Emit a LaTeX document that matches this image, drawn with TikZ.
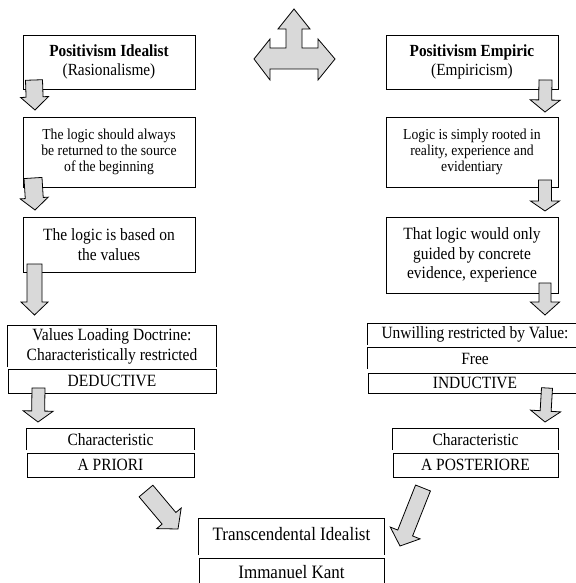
\documentclass[tikz,border=0pt]{standalone}
\usepackage{fontspec}
\setmainfont[FakeStretch=0.9]{Liberation Serif}
\usetikzlibrary{calc}
\tikzset{
  box/.style={draw=black, line width=0.9pt, inner sep=0pt, align=center, rectangle},
  obox/.style={inner sep=0pt, align=center, rectangle},
  barrow/.style={draw=black, fill=black!15, line width=0.8pt, line join=miter},
  fa/.style={font=\fontsize{15.2}{15.8}\selectfont},
  fb/.style={font=\fontsize{17.2}{19.5}\selectfont},
  fh/.style={font=\fontsize{17}{18.5}\selectfont},
  fd/.style={font=\fontsize{18.9}{20}\selectfont},
}
\newcommand\mkbox[7]{\node[#6, minimum width={#4pt-#2pt}, minimum height={#5pt-#3pt}] (#1) at ({(#2+#4)/2},{(#3+#5)/2}) {#7};}
\newcommand\topen[1]{\draw[line width=0.9pt] (#1.south west) |- (#1.north east) -- (#1.south east);}
\newcommand\blockarrow[5]{%
  \coordinate (bah) at ($(#2)!#5!(#1)$);
  \draw[barrow] ($(#1)!#3!90:(#2)$) -- ($(bah)!#3!90:(#2)$) -- ($(bah)!#4!90:(#2)$) -- (#2)
    -- ($(bah)!#4!-90:(#2)$) -- ($(bah)!#3!-90:(#2)$) -- ($(#1)!#3!-90:(#2)$) -- cycle;}
\begin{document}
\begin{tikzpicture}[x=1pt,y=-1pt]
\useasboundingbox[fill=white] (0,0) rectangle (575,583);
% left column
\mkbox{B1}{23}{35}{195}{89}{box,fh}{\textbf{Positivism Idealist}\\(Rasionalisme)}
\mkbox{B2}{23}{117}{195}{187}{box,fa}{The logic should always\\be returned to the source\\of the beginning}
\mkbox{B3}{23}{217}{195}{272}{box,fb}{The logic is based on\\the values}
\mkbox{B4a}{8}{326}{216}{367}{obox,fb}{Values Loading Doctrine:\\Characteristically restricted}
\topen{B4a}
\mkbox{B4b}{8}{369}{216}{393}{box,fb}{DEDUCTIVE}
\mkbox{B5a}{27}{429}{194}{450}{obox,fb}{Characteristic}
\topen{B5a}
\mkbox{B5b}{27}{453}{194}{477}{box,fb}{A PRIORI}
% right column
\mkbox{C1}{386}{35}{558}{89}{box,fh}{\textbf{Positivism Empiric}\\(Empiricism)}
\mkbox{C2}{386}{117}{558}{187}{box,fa}{Logic is simply rooted in\\reality, experience and\\evidentiary}
\mkbox{C3}{386}{217}{558}{293}{box,fb}{That logic would only\\guided by concrete\\evidence, experience}
\mkbox{C4a}{368}{324}{582}{345}{obox,fb}{Unwilling restricted by Value:}
\topen{C4a}
\mkbox{C4b}{368}{348}{582}{369}{obox,fb}{Free}
\topen{C4b}
\mkbox{C4c}{368}{373}{582}{393}{box,fb}{INDUCTIVE}
\mkbox{C5a}{393}{429}{558}{450}{obox,fb}{Characteristic}
\topen{C5a}
\mkbox{C5b}{393}{453}{558}{477}{box,fb}{A POSTERIORE}
% bottom
\mkbox{D1}{199}{519}{384}{549}{obox,fd}{Transcendental Idealist}
\draw[line width=0.9pt] (D1.north west) ++(0,36) -- (D1.north west) -- (D1.north east) -- ++(0,36);
\mkbox{D2}{199}{558}{384}{586}{box,fd}{Immanuel Kant}
% arrow end points
\coordinate (a1s) at (34,80);  \coordinate (a1e) at (35,110);
\coordinate (a2s) at (33,178); \coordinate (a2e) at (35,210);
\coordinate (a3s) at (34.5,264); \coordinate (a3e) at (34.5,315);
\coordinate (a4s) at (38.5,388); \coordinate (a4e) at (38,422);
\coordinate (r1s) at (545.5,80); \coordinate (r1e) at (545,112);
\coordinate (r2s) at (545,180); \coordinate (r2e) at (545,211);
\coordinate (r3s) at (545,283); \coordinate (r3e) at (545,315);
\coordinate (r4s) at (547,388); \coordinate (r4e) at (545,422);
\coordinate (dls) at (146,491); \coordinate (dle) at (178,529);
\coordinate (drs) at (423,488); \coordinate (dre) at (400,546);
\blockarrow{a1s}{a1e}{8.5pt}{14pt}{13pt}
\blockarrow{a2s}{a2e}{9pt}{14pt}{12pt}
\blockarrow{a3s}{a3e}{7.5pt}{13.5pt}{13pt}
\blockarrow{a4s}{a4e}{6.5pt}{15pt}{11pt}
\blockarrow{r1s}{r1e}{6.5pt}{15pt}{12pt}
\blockarrow{r2s}{r2e}{6.5pt}{14.5pt}{10pt}
\blockarrow{r3s}{r3e}{6pt}{14.5pt}{13pt}
\blockarrow{r4s}{r4e}{5.5pt}{15pt}{11pt}
\blockarrow{dls}{dle}{9pt}{16pt}{14pt}
\blockarrow{drs}{dre}{8pt}{16pt}{14pt}
% four-way arrow at the top
\draw[barrow] (294,9) -- (310,29) -- (302,29) -- (302,48) -- (318,48) -- (318,39) -- (335,59)
  -- (318,80) -- (318,69) -- (270,69) -- (270,80) -- (254,59) -- (270,39) -- (270,48)
  -- (286,48) -- (286,29) -- (278,29) -- cycle;
\end{tikzpicture}
\end{document}
